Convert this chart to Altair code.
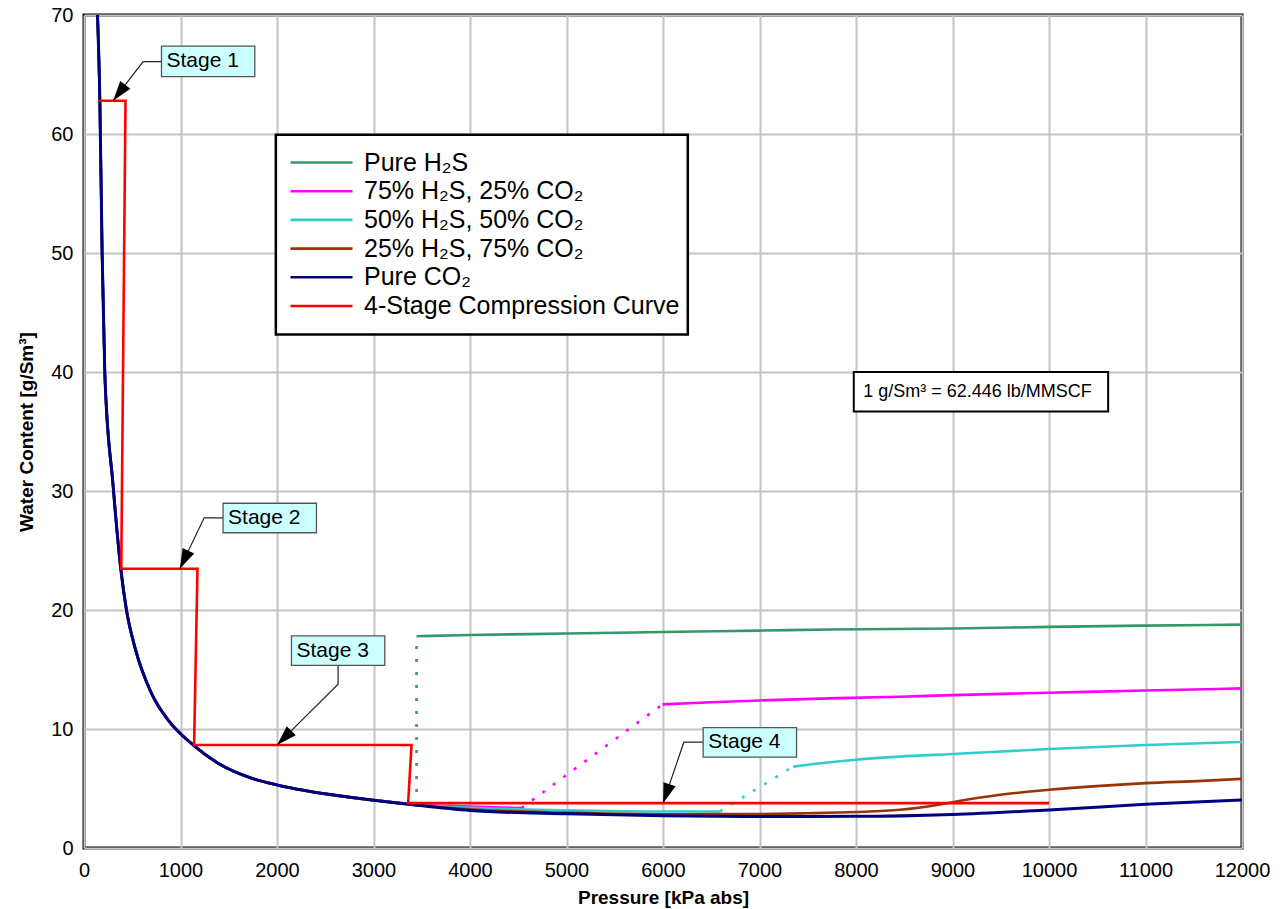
import math
import altair as alt
import pandas as pd

FONT = "Liberation Sans, Arial, Helvetica, sans-serif"

SERIES = ["Pure H₂S", "75% H₂S, 25% CO₂", "50% H₂S, 50% CO₂",
          "25% H₂S, 75% CO₂", "Pure CO₂", "4-Stage Compression Curve"]
COLORS = ["#339966", "#ff00ff", "#33cccc", "#993300", "#000080", "#ff0000"]

# common low-pressure branch (all mixtures coincide here)
LOW_P = [140, 164, 188, 216, 300, 381, 440, 526, 699, 872, 1131, 1390, 1736, 2000, 2500, 3000]
LOW_W = [70, 62.9, 49.9, 39.8, 30.6, 23.47, 20.0, 16.9, 13.0, 10.75, 8.66, 7.12, 5.87, 5.3, 4.55, 4.02]

# Pure H2S
H2S_LO_P = [3446]
H2S_LO_W = [3.62]
H2S_DOT_P = [3446, 3446]
H2S_DOT_W = [3.62, 17.8]
H2S_HI_P = [3446, 4000, 5000, 6000, 7000, 7728, 9000, 10000, 11000, 12000]
H2S_HI_W = [17.8, 17.9, 18.02, 18.15, 18.27, 18.36, 18.45, 18.58, 18.69, 18.77]

# 75% H2S
M75_LO_P = [3446, 4000, 4534]
M75_LO_W = [3.66, 3.48, 3.35]
M75_DOT_P = [4534, 5995]
M75_DOT_W = [3.35, 12.07]
M75_HI_P = [5995, 6500, 7000, 7728, 8454, 9000, 10000, 11000, 12000]
M75_HI_W = [12.07, 12.25, 12.4, 12.57, 12.71, 12.85, 13.04, 13.24, 13.41]

# 50% H2S
M50_LO_P = [3446, 4000, 5000, 6000, 6589]
M50_LO_W = [3.64, 3.38, 3.17, 3.07, 3.07]
M50_DOT_P = [6589, 7349]
M50_DOT_W = [3.07, 6.84]
M50_HI_P = [7349, 7500, 7728, 8000, 8454, 9000, 10000, 11000, 12000]
M50_HI_W = [6.84, 7.0, 7.21, 7.42, 7.68, 7.9, 8.32, 8.66, 8.91]

# 25% H2S
M25_P = [3446, 4000, 5000, 6000, 6589, 7000, 7500, 8000, 8454, 8868, 9000, 9494, 10000, 10530, 11000, 11585, 12000]
M25_W = [3.62, 3.25, 2.97, 2.84, 2.85, 2.86, 2.92, 3.02, 3.21, 3.66, 3.85, 4.47, 4.89, 5.22, 5.45, 5.64, 5.81]

# Pure CO2
CO2_P = [3359, 4000, 5000, 6000, 7000, 8000, 9000, 10000, 11000, 12000]
CO2_W = [3.68, 3.15, 2.87, 2.71, 2.65, 2.66, 2.82, 3.2, 3.67, 4.04]

# 4-stage compression curve
RED_P = [146, 430, 386, 1176, 1141, 3394, 3359, 10000]
RED_W = [62.8, 62.8, 23.47, 23.47, 8.66, 8.66, 3.77, 3.77]

# Stage annotations
STAGE_LABELS = ["Stage 1", "Stage 2", "Stage 3", "Stage 4"]
BOX_P1 = [803, 1441, 2150, 6416]
BOX_P2 = [1770, 2409, 3117, 7384]
BOX_W1 = [67.39, 28.97, 17.82, 10.11]
BOX_W2 = [64.82, 26.49, 15.34, 7.63]
LEAD_P = [803, 1441, 2633, 6416]
LEAD_W = [66.08, 27.75, 15.34, 8.89]
ELBOW_P = [612, 1245, 2633, 6216]
ELBOW_W = [66.08, 27.75, 13.77, 8.89]
TIP_P = [302, 993, 2001, 6001]
TIP_W = [62.8, 23.47, 8.66, 3.77]

INFO_TEXT = ["1 g/Sm³ = 62.446 lb/MMSCF"]
INFO_P = [7977, 10613]
INFO_W = [40.01, 36.68]
INFO_TEXT_P = [8075]

LEGEND_BOX_P = [1988, 6257]
LEGEND_BOX_W = [59.93, 43.16]

W_PX, H_PX = 1158, 833
X_MAX, Y_MAX = 12000, 70

# ---------------- build tables ----------------
rows = []
def add(series, seg, style, ps, ws):
    for i, (p, w) in enumerate(zip(ps, ws)):
        rows.append({"series": series, "seg": f"{series}-{seg}", "style": style,
                     "P": p, "W": w, "ord": i})

add(SERIES[0], "lo", "solid", LOW_P + H2S_LO_P, LOW_W + H2S_LO_W)
add(SERIES[0], "dot", "dot", H2S_DOT_P, H2S_DOT_W)
add(SERIES[0], "hi", "solid", H2S_HI_P, H2S_HI_W)
add(SERIES[1], "lo", "solid", LOW_P + M75_LO_P, LOW_W + M75_LO_W)
add(SERIES[1], "dot", "dot", M75_DOT_P, M75_DOT_W)
add(SERIES[1], "hi", "solid", M75_HI_P, M75_HI_W)
add(SERIES[2], "lo", "solid", LOW_P + M50_LO_P, LOW_W + M50_LO_W)
add(SERIES[2], "dot", "dot", M50_DOT_P, M50_DOT_W)
add(SERIES[2], "hi", "solid", M50_HI_P, M50_HI_W)
add(SERIES[3], "all", "solid", LOW_P + M25_P, LOW_W + M25_W)
add(SERIES[4], "all", "solid", LOW_P + CO2_P, LOW_W + CO2_W)
add(SERIES[5], "all", "step", RED_P, RED_W)
curves = pd.DataFrame(rows)

# text inset inside the stage boxes (~5 px expressed in kPa)
TEXT_INSET_KPA = 5 * X_MAX / W_PX
boxes = pd.DataFrame({"label": STAGE_LABELS, "P": BOX_P1, "P2": BOX_P2,
                      "W": BOX_W1, "W2": BOX_W2})
boxes["Pt"] = boxes["P"] + TEXT_INSET_KPA
boxes["Wc"] = (boxes["W"] + boxes["W2"]) / 2

lead_rows = []
arrow_rows = []
for i, lab in enumerate(STAGE_LABELS):
    for k, (p, w) in enumerate([(LEAD_P[i], LEAD_W[i]), (ELBOW_P[i], ELBOW_W[i]), (TIP_P[i], TIP_W[i])]):
        lead_rows.append({"label": lab, "P": p, "W": w, "ord": k})
    dx = (TIP_P[i] - ELBOW_P[i]) * W_PX / X_MAX
    dy = -(TIP_W[i] - ELBOW_W[i]) * H_PX / Y_MAX
    ang = (math.degrees(math.atan2(dx, -dy)) + 360) % 360
    arrow_rows.append({"label": lab, "P": TIP_P[i], "W": TIP_W[i], "ang": ang})
leads = pd.DataFrame(lead_rows)
arrows = pd.DataFrame(arrow_rows)

info = pd.DataFrame({"t": INFO_TEXT, "P": [INFO_P[0]], "P2": [INFO_P[1]],
                     "W": [INFO_W[0]], "W2": [INFO_W[1]], "Pt": INFO_TEXT_P,
                     "Wt": [(INFO_W[0] + INFO_W[1]) / 2]})
legbox = pd.DataFrame({"P": [LEGEND_BOX_P[0]], "P2": [LEGEND_BOX_P[1]],
                       "W": [LEGEND_BOX_W[0]], "W2": [LEGEND_BOX_W[1]]})

# ---------------- encodings ----------------
xs = alt.Scale(domain=[0, X_MAX], nice=False, zero=False)
ys = alt.Scale(domain=[0, Y_MAX], nice=False, zero=False)
AX = dict(labelFont=FONT, titleFont=FONT, labelFontSize=20, titleFontSize=19,
          titleFontWeight="bold", labelColor="black", titleColor="black",
          ticks=False, domain=False, grid=True, gridColor="#c4c4c4", gridWidth=2,
          labelFlush=False, labelOverlap=False)
xax = alt.Axis(title="Pressure [kPa abs]", values=list(range(0, 12001, 1000)), format="d",
               labelPadding=12, titlePadding=8, **AX)
yax = alt.Axis(title="Water Content [g/Sm³]", values=list(range(0, 71, 10)), format="d",
               labelPadding=11, titlePadding=14, **AX)

def X(f): return alt.X(f"{f}:Q", scale=xs, axis=xax)
def Y(f): return alt.Y(f"{f}:Q", scale=ys, axis=yax)

legend = alt.Legend(orient="none", legendX=225, legendY=135, title=None,
                    labelFontSize=25, labelFont=FONT, labelColor="black",
                    symbolType="M-3,0H3", symbolSize=428, symbolStrokeWidth=2.6,
                    labelOffset=30, rowPadding=2.7, padding=0, labelLimit=600)
color = alt.Color("series:N", scale=alt.Scale(domain=SERIES, range=COLORS), legend=legend)

layers = []
# boxes first
layers.append(alt.Chart(legbox).mark_rect(fill="white", stroke="black", strokeWidth=2.5).encode(
    x=X("P"), x2="P2", y=Y("W"), y2="W2"))
layers.append(alt.Chart(info).mark_rect(fill="white", stroke="black", strokeWidth=2).encode(
    x=X("P"), x2="P2", y=Y("W"), y2="W2"))
layers.append(alt.Chart(info).mark_text(align="left", baseline="middle", fontSize=18,
                                        font=FONT, color="black").encode(
    x=X("Pt"), y=Y("Wt"), text="t:N"))

for s in SERIES:
    sw = 3 if s == "Pure CO₂" else 2.6
    base = alt.Chart(curves).transform_filter(alt.datum.series == s)
    if s == SERIES[5]:
        layers.append(base.mark_line(strokeWidth=2.6, clip=True).encode(
            x=X("P"), y=Y("W"), color=color, detail="seg:N", order="ord:Q"))
        continue
    layers.append(base.transform_filter(alt.datum.style == "dot").mark_line(
        strokeDash=[3, 10], strokeWidth=2.6, clip=True).encode(
        x=X("P"), y=Y("W"), color=color, detail="seg:N", order="ord:Q"))
    layers.append(base.transform_filter(alt.datum.style == "solid").mark_line(
        strokeWidth=sw, clip=True, interpolate="monotone").encode(
        x=X("P"), y=Y("W"), color=color, detail="seg:N", order="ord:Q"))

layers.append(alt.Chart(leads).mark_line(color="#222222", strokeWidth=1.2).encode(
    x=X("P"), y=Y("W"), detail="label:N", order="ord:Q"))
layers.append(alt.Chart(arrows).mark_point(
    shape="M0,0L-0.32,1L0.32,1Z", filled=True, color="black", opacity=1, size=1600, strokeWidth=0).encode(
    x=X("P"), y=Y("W"), angle=alt.Angle("ang:Q", scale=None)))
layers.append(alt.Chart(boxes).mark_rect(fill="#ccffff", stroke="#555555", strokeWidth=1.3).encode(
    x=X("P"), x2="P2", y=Y("W"), y2="W2"))
layers.append(alt.Chart(boxes).mark_text(align="left", baseline="middle", fontSize=21,
                                         font=FONT, color="black").encode(
    x=X("Pt"), y=Y("Wc"), text="label:N"))

chart = alt.layer(*layers).properties(
    width=W_PX, height=H_PX,
    autosize=alt.AutoSizeParams(type="none"),
    padding={"left": 76, "top": 7, "right": 30, "bottom": 60},
    background="white",
).configure_view(stroke="black", strokeWidth=3)

chart.save("out.html", embed_options={"renderer": "svg", "actions": False})
